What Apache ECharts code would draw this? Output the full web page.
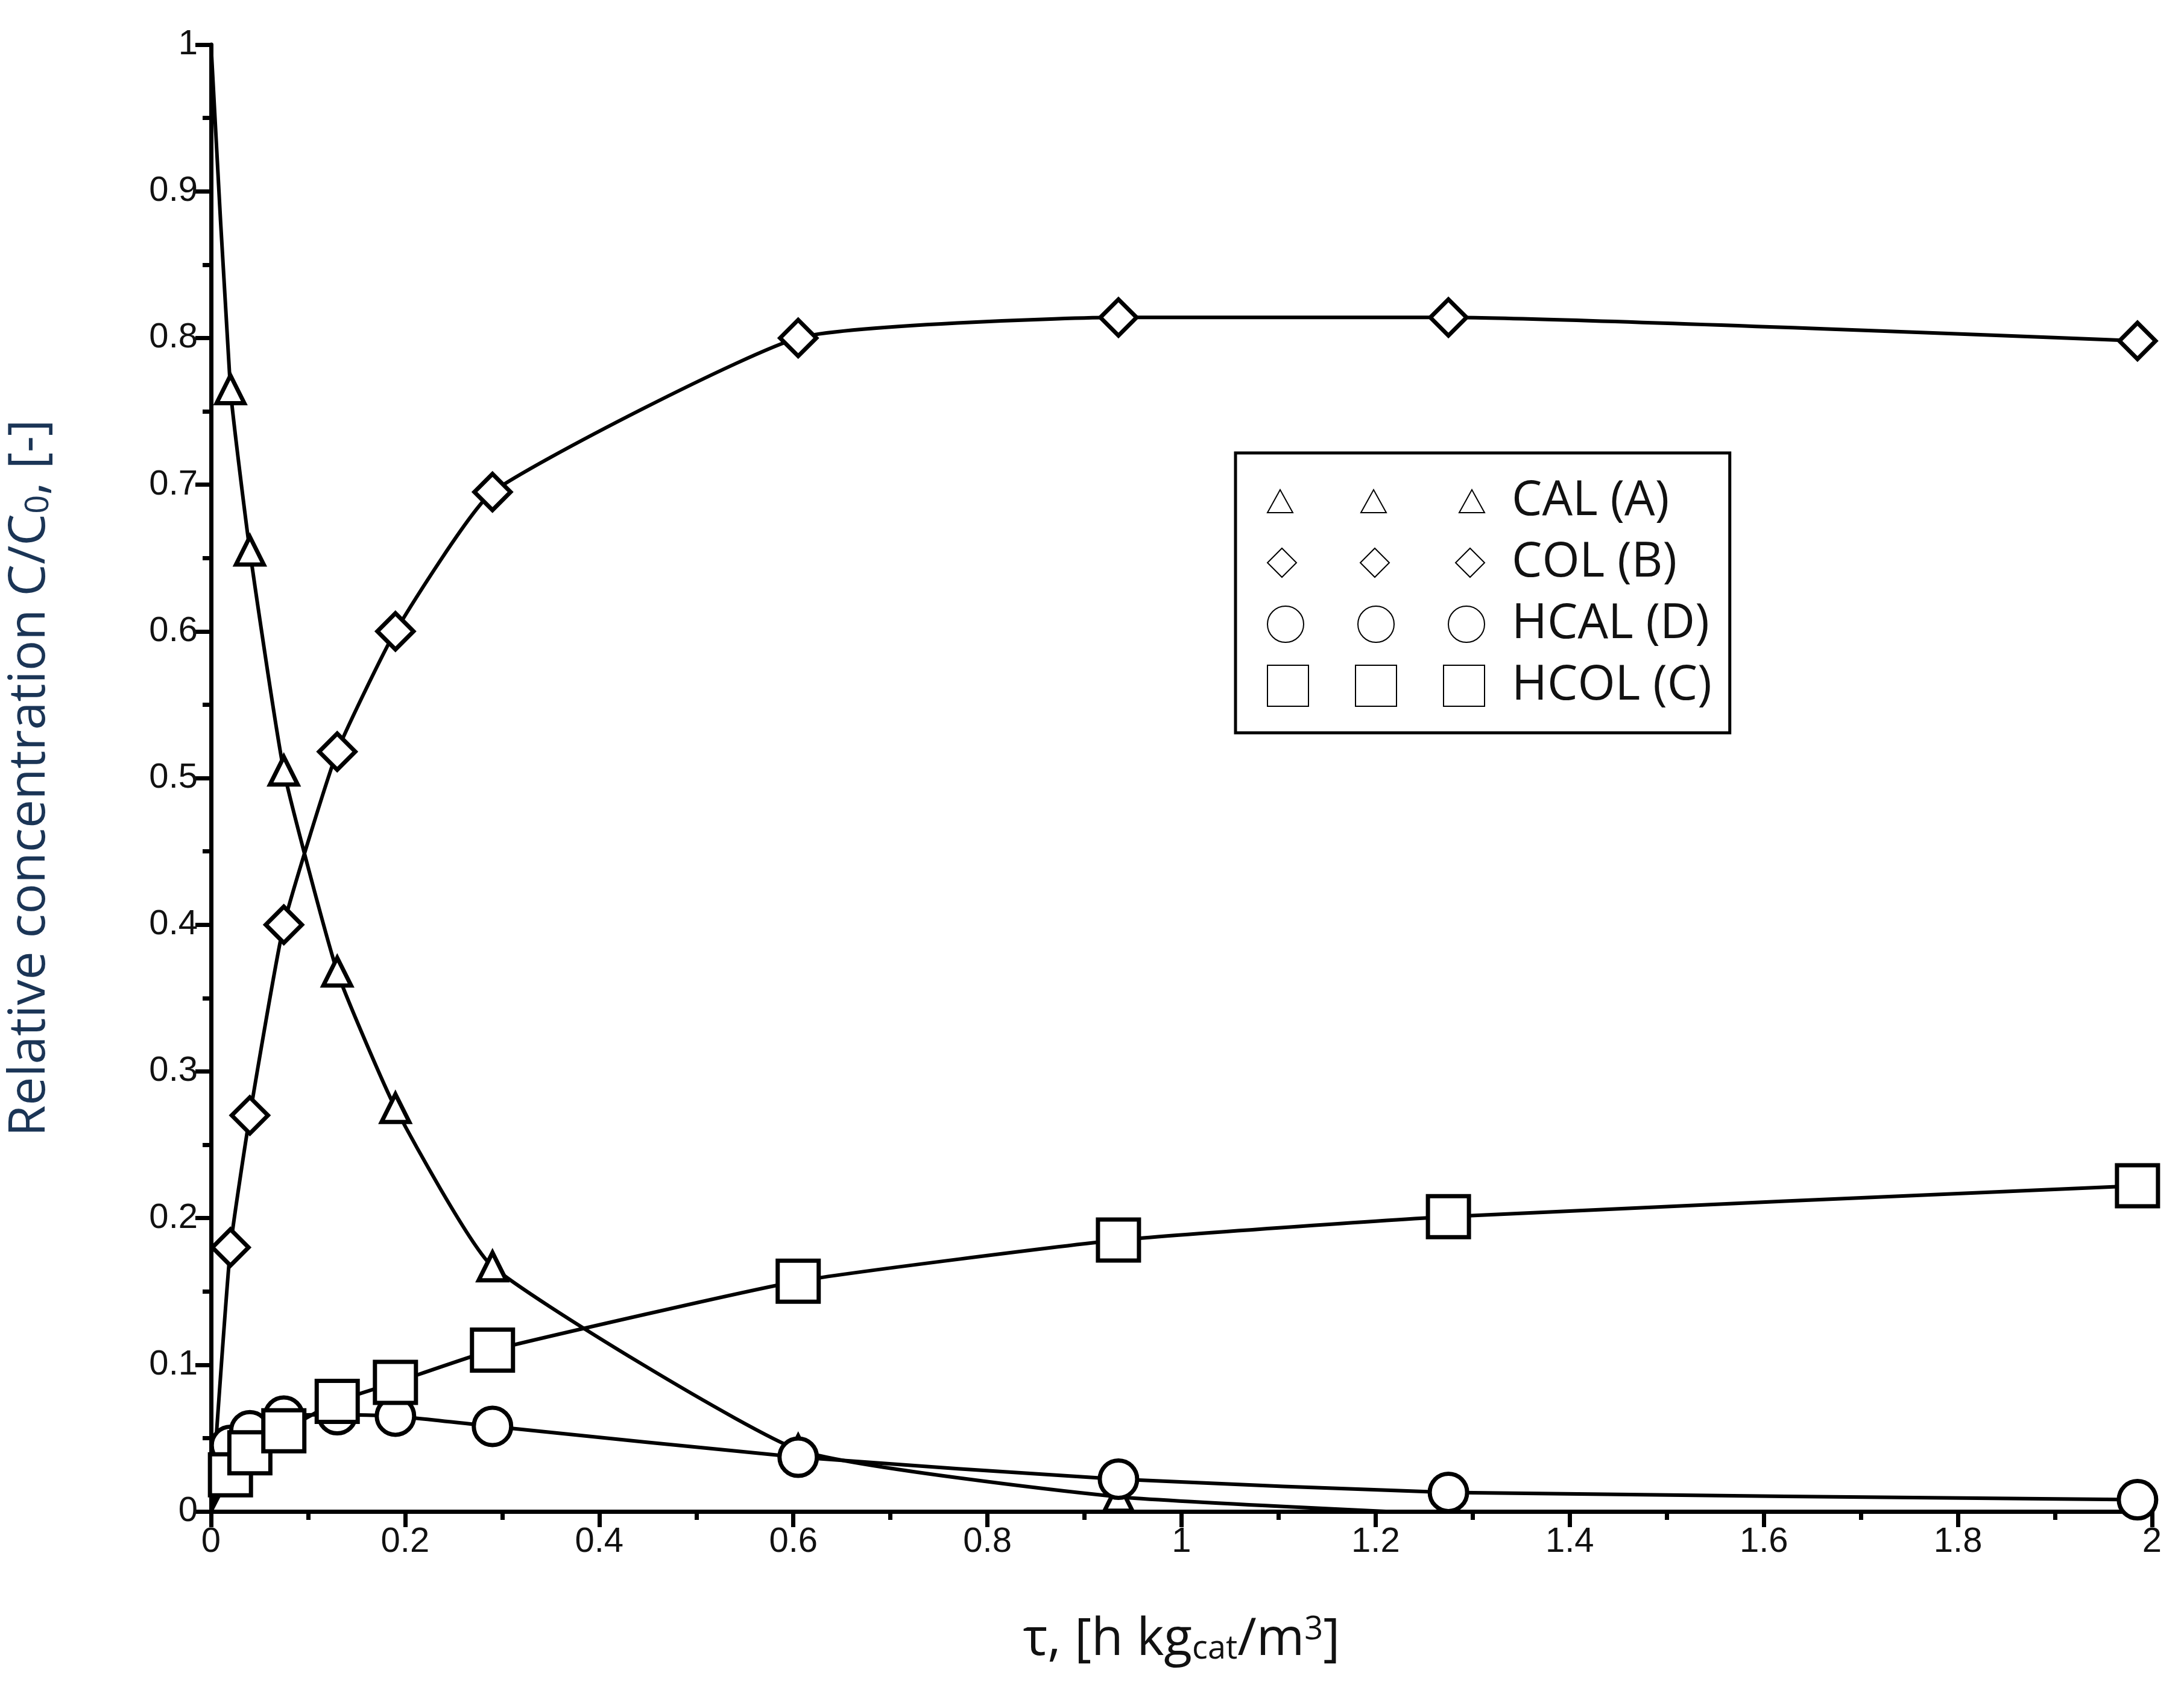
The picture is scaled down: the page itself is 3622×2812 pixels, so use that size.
<!DOCTYPE html>
<html lang="en">
<head>
<meta charset="UTF-8">
<title>Relative concentration</title>
<script src="https://cdn.jsdelivr.net/npm/echarts@6/dist/echarts.min.js"></script>
<style>html,body{margin:0;background:#fff}#main{width:3622px;height:2812px}</style>
</head>
<body>
<div id="main"></div>
<script>
var tau = [0, 0.02, 0.04, 0.075, 0.13, 0.19, 0.29, 0.605, 0.935, 1.275, 1.985];
var cal = [1, 0.765, 0.655, 0.505, 0.368, 0.275, 0.167, 0.042, 0.01, -0.002];
var col = [0, 0.18, 0.27, 0.40, 0.518, 0.60, 0.695, 0.80, 0.814, 0.814, 0.798];
var hcal = [0, 0.045, 0.055, 0.065, 0.066, 0.065, 0.058, 0.037, 0.022, 0.013, 0.008];
var hcol = [0, 0.025, 0.04, 0.055, 0.075, 0.088, 0.11, 0.157, 0.185, 0.201, 0.222];

function pairs(ys) {
    return ys.map(function (y, i) {
        // the starting point has no marker in the original
        return i === 0 ? { value: [tau[i], y], symbol: 'none' } : [tau[i], y];
    });
}

// legend icons: three markers in a row, all 360 wide so sizes stay as drawn
function tri(cx) { return 'M' + (cx - 21) + ' 38L' + cx + ' 0L' + (cx + 21) + ' 38Z'; }
function dia(cx) { return 'M' + cx + ' 0L' + (cx + 24) + ' 24L' + cx + ' 48L' + (cx - 24) + ' 24Z'; }
function circ(cx) { return 'M' + (cx - 30) + ' 30A30 30 0 1 0 ' + (cx + 30) + ' 30A30 30 0 1 0 ' + (cx - 30) + ' 30Z'; }
function sq(cx) { return 'M' + (cx - 34) + ' 0L' + (cx + 34) + ' 0L' + (cx + 34) + ' 68L' + (cx - 34) + ' 68Z'; }
var icons = {
    'CAL (A)': 'path://' + tri(21) + tri(176) + tri(339),
    'COL (B)': 'path://' + dia(24) + dia(178) + dia(336),
    'HCAL (D)': 'path://' + circ(30) + circ(180) + circ(330),
    'HCOL (C)': 'path://' + sq(34) + sq(180) + sq(326)
};

function mk(name, data, symbol, size) {
    return {
        name: name, type: 'line', data: pairs(data), symbol: symbol, symbolSize: size,
        showAllSymbol: true, smooth: 0.15, clip: true,
        lineStyle: { color: '#000', width: 6 },
        itemStyle: { color: '#fff', borderColor: '#000', borderWidth: 7 }
    };
}

var chart = echarts.init(document.getElementById('main'));
var axisCommon = {
    axisLine: { show: true, lineStyle: { color: '#000', width: 7 } },
    axisTick: { show: true, inside: false, length: 26, lineStyle: { color: '#000', width: 7 } },
    minorTick: { show: true, splitNumber: 2, length: 14, lineStyle: { color: '#000', width: 7 } },
    splitLine: { show: false },
    axisLabel: { color: '#111', fontSize: 58, fontFamily: 'Liberation Sans', margin: 22,
        formatter: function (v) { return String(+v.toFixed(1)); } }
};
chart.setOption({
    animation: false,
    grid: { left: 340, right: 53, top: 74, bottom: 306 },
    xAxis: Object.assign({
        type: 'value', min: 0, max: 2, interval: 0.2,
        name: 'τ, [h kg{sub|cat}/m{sup|3}]', nameLocation: 'middle', nameGap: 170,
        nameTextStyle: { color: '#111', fontSize: 86, fontFamily: 'Open Sans',
            rich: { sub: { fontSize: 54, verticalAlign: 'bottom', padding: [32, 0, 0, 0], fontFamily: 'Open Sans', color: '#111' },
                    sup: { fontSize: 54, verticalAlign: 'top', padding: [0, 0, 32, 0], fontFamily: 'Open Sans', color: '#111' } } }
    }, axisCommon),
    yAxis: Object.assign({
        type: 'value', min: 0, max: 1, interval: 0.1,
        name: 'Relative concentration C/C{sub|0}, [-]', nameLocation: 'middle', nameGap: 258, nameRotate: 90,
        nameTextStyle: { color: '#1b3556', fontSize: 84, fontFamily: 'Open Sans',
            rich: { sub: { fontSize: 54, verticalAlign: 'bottom', padding: [30, 0, 0, 0], fontFamily: 'Open Sans', color: '#1b3556' } } }
    }, axisCommon),
    legend: {
        orient: 'vertical', left: 2049, top: 751,
        padding: [40, 30, 38, 52],
        itemWidth: 360, itemHeight: 70, itemGap: 22, symbolKeepAspect: true,
        borderColor: '#000', borderWidth: 5, borderRadius: 0,
        textStyle: { color: '#111', fontSize: 80, fontFamily: 'Open Sans', padding: [0, 0, 0, 40] },
        data: Object.keys(icons).map(function (n) { return { name: n, icon: icons[n] }; })
    },
    series: [
        mk('CAL (A)', cal, 'triangle', 46),
        mk('COL (B)', col, 'diamond', 60),
        mk('HCAL (D)', hcal, 'circle', 62),
        mk('HCOL (C)', hcol, 'rect', 68)
    ]
});
</script>
</body>
</html>
